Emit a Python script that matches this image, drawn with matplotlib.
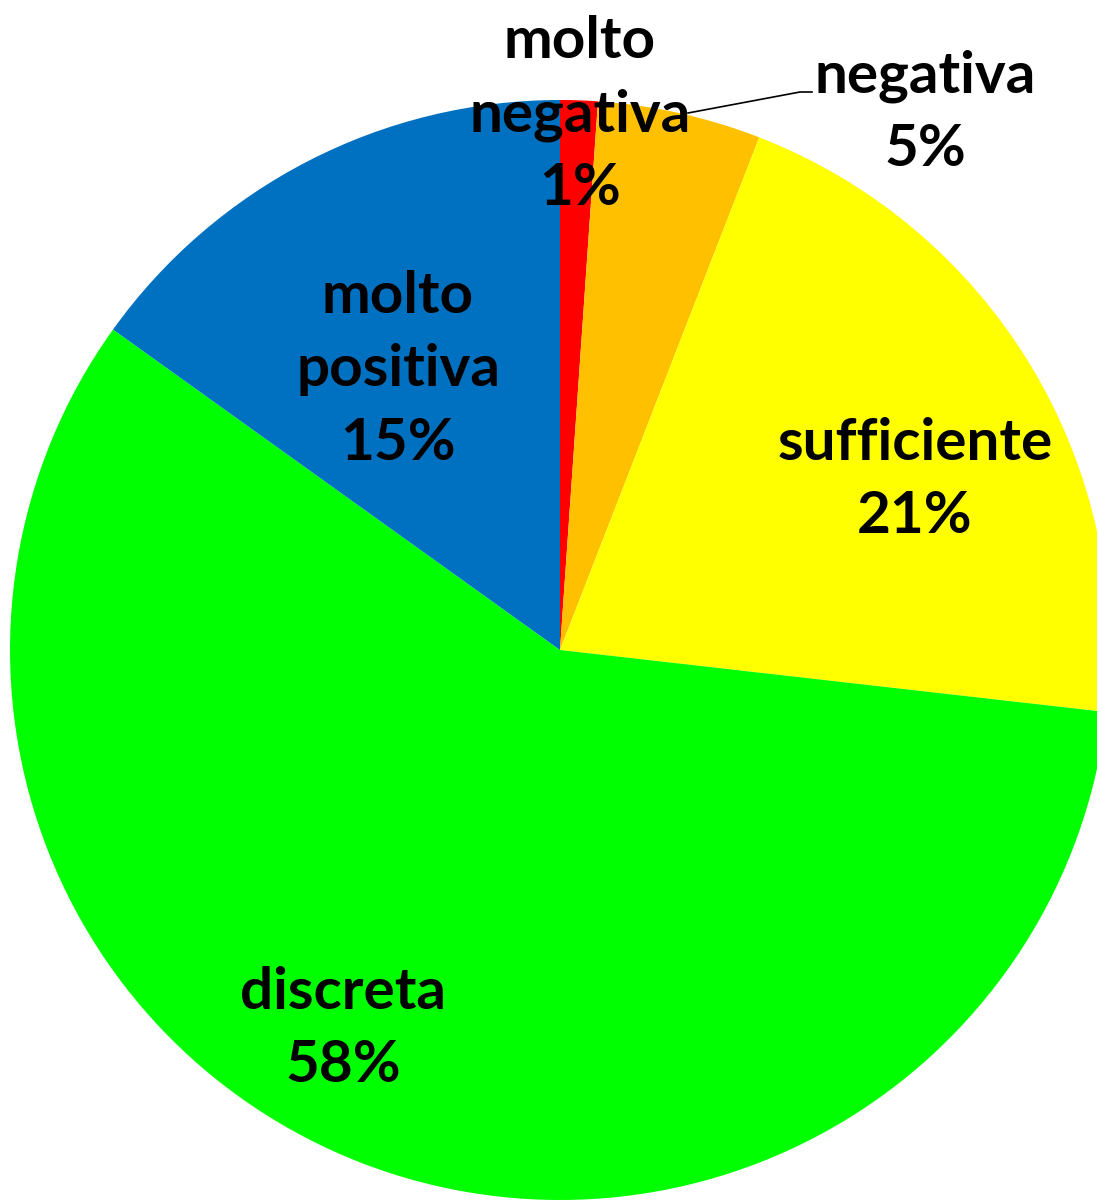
import matplotlib.pyplot as plt

# Dati del grafico
categorie = ['molto negativa', 'negativa', 'sufficiente', 'discreta', 'molto positiva']
valori = [1.1, 4.8, 20.9, 58.1, 15.1]
colori = ['#FF0000', '#FFC000', '#FFFF00', '#00FF00', '#0070C0']

# Testo delle etichette (categoria su più righe + percentuale)
testi = ['molto\nnegativa', 'negativa', 'sufficiente', 'discreta', 'molto\npositiva']

# Posizioni delle etichette in pixel (x, y dall'alto)
pos_pixel = [(580, 115), (925, 113), (915, 480), (343, 1029), (398, 370)]

W, H = 1097, 1200
cx, cy, R = 560, 650, 550

fig = plt.figure(figsize=(W / 100, H / 100), dpi=100)
ax = fig.add_axes([0, 0, 1, 1])

ax.pie(valori, colors=colori, startangle=90, counterclock=False,
       radius=1, center=(0, 0), wedgeprops={'linewidth': 0})

ax.set_xlim(-cx / R, (W - cx) / R)
ax.set_ylim(-(H - cy) / R, cy / R)
ax.set_aspect('auto')
ax.axis('off')

totale = sum(valori)
for testo, v, (px, py) in zip(testi, valori, pos_pixel):
    x = (px - cx) / R
    y = (cy - py) / R
    ax.text(x, y, f'{testo}\n{round(v / totale * 100)}%', ha='center', va='center',
            fontsize=42, fontweight='bold', family='Lato', linespacing=1.47,
            color='black')

# Linea guida per "negativa"
xs = [(p - cx) / R for p in (688, 800, 812)]
ys = [(cy - p) / R for p in (113, 92, 92)]
ax.plot(xs, ys, color='black', linewidth=1.2)

fig.savefig('out.png', dpi=100)
